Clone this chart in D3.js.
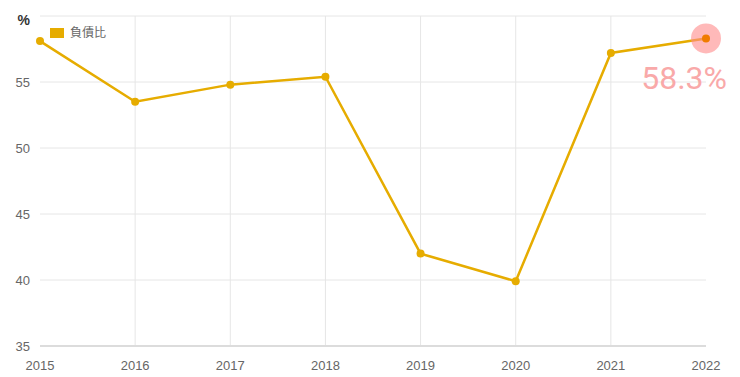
<!DOCTYPE html>
<html lang="zh-Hant">
<head>
<meta charset="utf-8">
<title>負債比</title>
<script src="https://cdnjs.cloudflare.com/ajax/libs/d3/7.8.5/d3.min.js"></script>
<style>
  body { margin: 0; background: #fff; }
  svg text { font-family: "Liberation Sans", Arial, "Noto Sans CJK TC", sans-serif; }
  .grid line { stroke: #e6e6e6; stroke-width: 1; }
  .tick-label { fill: #666; font-size: 13px; }
</style>
</head>
<body>
<svg width="740" height="377"></svg>
<script>
// data
var years = ["2015", "2016", "2017", "2018", "2019", "2020", "2021", "2022"];
var debtRatio = [58.1, 53.5, 54.8, 55.4, 42.0, 39.9, 57.2, 58.3];
var yTicks = [35, 40, 45, 50, 55];
var seriesName = "負債比";

var svg = d3.select("svg"),
    margin = {top: 16, right: 34, bottom: 31, left: 40},
    width = +svg.attr("width") - margin.left - margin.right,
    height = +svg.attr("height") - margin.top - margin.bottom;

var x = d3.scalePoint().domain(years).range([0, width]),
    y = d3.scaleLinear().domain([35, 60]).range([height, 0]);

var g = svg.append("g")
    .attr("transform", "translate(" + margin.left + "," + margin.top + ")");

// horizontal grid
g.append("g").attr("class", "grid")
  .selectAll("line")
  .data(yTicks.concat([60]))
  .enter().append("line")
    .attr("x1", 0).attr("x2", width)
    .attr("y1", function(d) { return y(d); })
    .attr("y2", function(d) { return y(d); });

// vertical grid (inner years only)
g.append("g").attr("class", "grid")
  .selectAll("line")
  .data(years.slice(1, -1))
  .enter().append("line")
    .attr("x1", function(d) { return x(d); })
    .attr("x2", function(d) { return x(d); })
    .attr("y1", 0).attr("y2", height);

// base line
g.append("line")
  .attr("x1", 0).attr("x2", width)
  .attr("y1", height).attr("y2", height)
  .attr("stroke", "#dcdcdc").attr("stroke-width", 2);

// y labels
g.selectAll(".ylab")
  .data(yTicks)
  .enter().append("text")
    .attr("class", "tick-label")
    .attr("x", -10)
    .attr("y", function(d) { return y(d); })
    .attr("dy", "0.35em")
    .attr("text-anchor", "end")
    .text(function(d) { return d; });

g.append("text")
  .attr("x", -10).attr("y", 9)
  .attr("text-anchor", "end")
  .attr("fill", "#333")
  .style("font-size", "14px")
  .style("font-weight", "bold")
  .text("%");

// x labels
g.selectAll(".xlab")
  .data(years)
  .enter().append("text")
    .attr("class", "tick-label")
    .attr("x", function(d) { return x(d); })
    .attr("y", height + 24)
    .attr("text-anchor", "middle")
    .text(function(d) { return d; });

// line
var pts = years.map(function(d, i) { return {year: d, v: debtRatio[i]}; });
var line = d3.line()
  .x(function(d) { return x(d.year); })
  .y(function(d) { return y(d.v); });

g.append("path")
  .datum(pts)
  .attr("fill", "none")
  .attr("stroke", "#e6ac00")
  .attr("stroke-width", 2.5)
  .attr("d", line);

g.selectAll(".dot")
  .data(pts.slice(0, -1))
  .enter().append("circle")
    .attr("cx", function(d) { return x(d.year); })
    .attr("cy", function(d) { return y(d.v); })
    .attr("r", 4)
    .attr("fill", "#e6ac00");

// highlighted last point
var last = pts[pts.length - 1];
g.append("circle")
  .attr("cx", x(last.year)).attr("cy", y(last.v))
  .attr("r", 15)
  .attr("fill", "#ff8a8a").attr("fill-opacity", 0.6);
g.append("circle")
  .attr("cx", x(last.year)).attr("cy", y(last.v))
  .attr("r", 4)
  .attr("fill", "#f07c00");
g.append("text")
  .attr("x", x(last.year) + 21)
  .attr("y", y(last.v) + 51)
  .attr("text-anchor", "end")
  .attr("fill", "#f9a9a9")
  .style("font-family", "Roboto, sans-serif")
  .style("font-size", "32px")
  .text(last.v.toFixed(1) + "%");

// legend
var legend = g.append("g").attr("transform", "translate(10,12)");
legend.append("rect")
  .attr("width", 14).attr("height", 10)
  .attr("fill", "#e6ac00");
legend.append("text")
  .attr("x", 20).attr("y", 5).attr("dy", "0.35em")
  .attr("fill", "#666")
  .style("font-size", "12px")
  .text(seriesName);
</script>
</body>
</html>
